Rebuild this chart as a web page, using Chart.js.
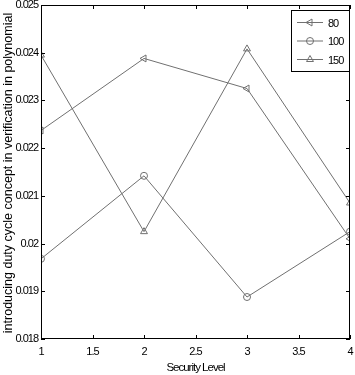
<!DOCTYPE html>
<html>
<head>
<meta charset="utf-8">
<script src="https://cdn.jsdelivr.net/npm/chart.js@4"></script>
<style>
  html, body { margin: 0; padding: 0; background: #fff; }
  canvas { display: block; }
</style>
</head>
<body>
<canvas id="chart" width="355" height="375"></canvas>
<script>
const xValues = [1, 2, 3, 4];
const series80 = [0.02237, 0.02388, 0.02325, 0.0201];
const series100 = [0.01968, 0.02142, 0.01888, 0.02025];
const series150 = [0.02395, 0.02025, 0.02408, 0.02085];
const seriesNames = ['80', '100', '150'];
const xTickLabels = ['1', '1.5', '2', '2.5', '3', '3.5', '4'];
const yTickLabels = ['0.018', '0.019', '0.02', '0.021', '0.022', '0.023', '0.024', '0.025'];
const yTitle = 'introducing duty cycle concept in verification in polynomial';

const FONT = "'Liberation Sans', Arial, sans-serif";
const lineColor = '#707070';

function pts(ys) {
  return xValues.map((x, i) => ({ x: x, y: ys[i] }));
}

function makeSet(name, ys, style, rotation, r) {
  return {
    label: name,
    data: pts(ys),
    borderColor: lineColor,
    backgroundColor: 'rgba(0,0,0,0)',
    borderWidth: 1,
    pointStyle: style,
    pointRotation: rotation,
    pointRadius: r,
    pointBorderColor: lineColor,
    pointBackgroundColor: 'rgba(0,0,0,0)',
    pointBorderWidth: 1,
    tension: 0
  };
}

// the reference text looks squeezed sideways, so tighten letters
const squeezePlugin = {
  id: 'squeeze',
  beforeDraw(chart) {
    chart.ctx.letterSpacing = '-1px';
  }
};

// frame, inner ticks, y title and legend box, matlab style
const framePlugin = {
  id: 'frame',
  afterDraw(chart) {
    const { ctx, chartArea: a, scales: { x, y } } = chart;
    ctx.save();
    ctx.strokeStyle = '#000';
    ctx.lineWidth = 1;
    ctx.strokeRect(Math.round(a.left) + 0.5, Math.round(a.top) + 0.5,
      Math.round(a.width) - 1, Math.round(a.height) - 1);
    ctx.beginPath();
    x.ticks.forEach(t => {
      const px = Math.round(x.getPixelForValue(t.value)) + 0.5;
      ctx.moveTo(px, a.bottom); ctx.lineTo(px, a.bottom - 4);
      ctx.moveTo(px, a.top); ctx.lineTo(px, a.top + 4);
    });
    y.ticks.forEach(t => {
      const py = Math.round(y.getPixelForValue(t.value)) + 0.5;
      ctx.moveTo(a.left, py); ctx.lineTo(a.left + 4, py);
      ctx.moveTo(a.right, py); ctx.lineTo(a.right - 4, py);
    });
    ctx.stroke();

    // y axis title
    ctx.save();
    ctx.letterSpacing = '0px';
    ctx.translate(12, (a.top + a.bottom) / 2 + 1);
    ctx.rotate(-Math.PI / 2);
    ctx.font = '12.5px ' + FONT;
    ctx.fillStyle = '#000';
    ctx.textAlign = 'center';
    ctx.textBaseline = 'alphabetic';
    ctx.fillText(yTitle, 0, 0);
    ctx.restore();

    // legend
    const bx = 291.5, by = 10.5, bw = 58, bh = 61;
    ctx.fillStyle = '#fff';
    ctx.fillRect(bx, by, bw, bh);
    ctx.strokeRect(bx, by, bw, bh);
    ctx.font = '11px ' + FONT;
    ctx.textBaseline = 'middle';
    chart.data.datasets.forEach((ds, i) => {
      const ly = 22.5 + i * 18.5;
      ctx.strokeStyle = lineColor;
      ctx.fillStyle = 'rgba(0,0,0,0)';
      ctx.beginPath();
      ctx.moveTo(297, ly); ctx.lineTo(323, ly);
      ctx.stroke();
      Chart.helpers.drawPoint(ctx, {
        pointStyle: ds.pointStyle,
        rotation: ds.pointRotation,
        radius: ds.pointRadius,
        borderWidth: 1
      }, 310, ly);
      ctx.fillStyle = '#000';
      ctx.fillText(seriesNames[i], 328, ly + 1);
    });
    ctx.restore();
  }
};

new Chart(document.getElementById('chart'), {
  type: 'line',
  data: {
    datasets: [
      makeSet(seriesNames[0], series80, 'triangle', -90, 4),
      makeSet(seriesNames[1], series100, 'circle', 0, 3.5),
      makeSet(seriesNames[2], series150, 'triangle', 0, 4)
    ]
  },
  options: {
    responsive: false,
    animation: false,
    devicePixelRatio: 1,
    layout: { padding: { top: 5, right: 4, left: 0, bottom: 0 } },
    plugins: {
      legend: { display: false },
      tooltip: { enabled: false }
    },
    scales: {
      x: {
        type: 'linear',
        min: 1,
        max: 4,
        afterFit: s => { s.height = 36; s.paddingLeft = 0; s.paddingRight = 0; },
        border: { display: false },
        grid: { display: false, drawTicks: false },
        ticks: {
          stepSize: 0.5,
          padding: 6,
          color: '#000',
          font: { family: FONT, size: 11 },
          maxRotation: 0,
          callback: (v, i) => xTickLabels[i]
        },
        title: {
          display: true,
          text: 'Security Level',
          color: '#000',
          font: { family: FONT, size: 11.5 },
          padding: { top: 0, bottom: 0 }
        }
      },
      y: {
        min: 0.018,
        max: 0.025,
        afterFit: s => { s.width = 41; s.paddingTop = 0; s.paddingBottom = 0; },
        border: { display: false },
        grid: { display: false, drawTicks: false },
        ticks: {
          stepSize: 0.001,
          padding: 3,
          color: '#000',
          font: { family: FONT, size: 11 },
          callback: (v, i) => yTickLabels[i]
        }
      }
    }
  },
  plugins: [squeezePlugin, framePlugin]
});
</script>
</body>
</html>
